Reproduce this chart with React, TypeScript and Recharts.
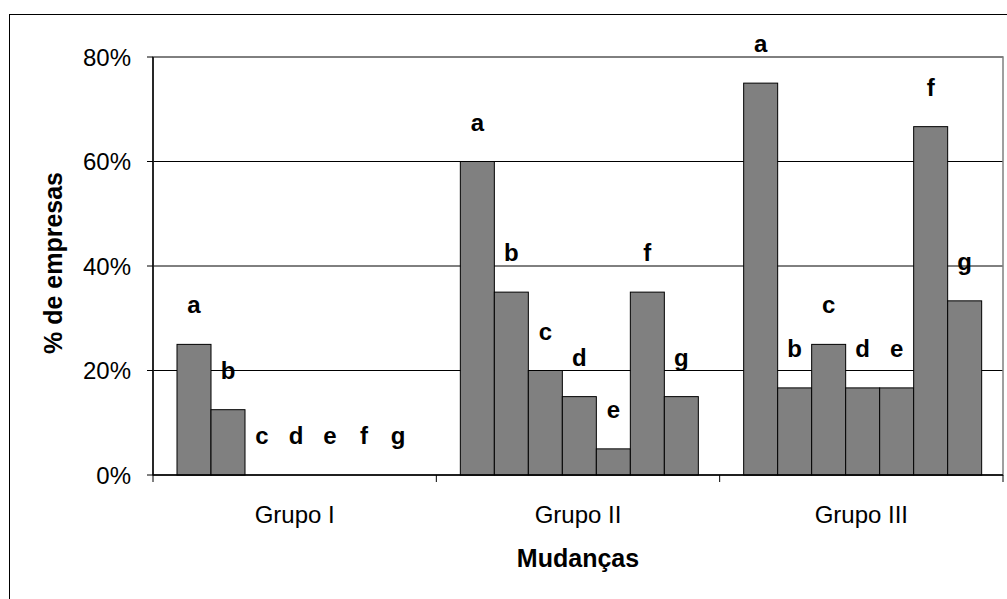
import React from 'react';
import { BarChart, Bar, XAxis, YAxis, CartesianGrid, ReferenceArea, Label } from 'recharts';

const groups = ['Grupo I', 'Grupo II', 'Grupo III'];
const seriesKeys = ['a', 'b', 'c', 'd', 'e', 'f', 'g'];
const aValues = [0.25, 0.6, 0.75];
const bValues = [0.125, 0.35, 0.1667];
const cValues = [0, 0.2, 0.25];
const dValues = [0, 0.15, 0.1667];
const eValues = [0, 0.05, 0.1667];
const fValues = [0, 0.35, 0.6667];
const gValues = [0, 0.15, 0.3333];
const yTicks = [0, 0.2, 0.4, 0.6, 0.8];
const yTitle = '% de empresas';
const xTitle = 'Mudanças';

const seriesValues: Record<string, number[]> = {
  a: aValues, b: bValues, c: cValues, d: dValues, e: eValues, f: fValues, g: gValues,
};

const data = groups.map((name, i) => {
  const row: Record<string, any> = { name };
  seriesKeys.forEach((k) => { row[k] = seriesValues[k][i]; });
  return row;
});

const FONT = '"Liberation Sans", Arial, sans-serif';

const XTick = (props: any) => {
  const { x, y, payload, index, visibleTicksCount } = props;
  const half = payload && payload.offset != null ? payload.offset : 0;
  const isLast = index === (visibleTicksCount ?? groups.length) - 1;
  return (
    <g>
      <line x1={x - half} y1={y} x2={x - half} y2={y + 7} stroke="#000" strokeWidth={1} />
      {isLast && <line x1={x + half} y1={y} x2={x + half} y2={y + 7} stroke="#000" strokeWidth={1} />}
      <text x={x} y={y + 48} textAnchor="middle" fontSize={24} fontFamily={FONT} fill="#000">
        {payload.value}
      </text>
    </g>
  );
};

const makeShape = (letter: string) => (p: any) => {
  const { x, y, width, height } = p;
  if (x == null || y == null || width == null) return <g />;
  const h = Math.max(0, height || 0);
  return (
    <g>
      {h > 0 && (
        <rect x={x} y={y} width={width} height={h} fill="#808080" stroke="#000" strokeWidth={1} />
      )}
      <text x={x + width / 2} y={y - 31} textAnchor="middle" fontSize={24} fontWeight="bold" fontFamily={FONT} fill="#000">
        {letter}
      </text>
    </g>
  );
};

export default function App() {
  return (
    <div style={{ position: 'fixed', left: 0, top: 0, width: 1007, height: 599, overflow: 'hidden', background: '#fff' }}>
      <div style={{ position: 'absolute', left: 9, top: 14, width: 1020, height: 620, border: '1px solid #000' }} />
      <div style={{ position: 'absolute', left: 0, top: 0 }}>
        <BarChart
          width={1007}
          height={599}
          data={data}
          margin={{ top: 57, right: 4, bottom: 0, left: 0 }}
          barCategoryGap={24}
          barGap={0}
        >
          <CartesianGrid vertical={false} stroke="#000" strokeWidth={1} />
          <ReferenceArea y1={0} y2={0.8} fill="none" stroke="#808080" strokeWidth={1.5} ifOverflow="visible" />
          <XAxis
            dataKey="name"
            height={124}
            tickLine={false}
            tickSize={0}
            tickMargin={0}
            axisLine={{ stroke: '#000', strokeWidth: 1.5 }}
            tick={<XTick />}
            interval={0}
          >
            <Label
              content={(p: any) => {
                const vb = p.viewBox || {};
                return (
                  <text x={vb.x + vb.width / 2} y={vb.y + 92} textAnchor="middle" fontSize={25} fontWeight="bold" fontFamily={FONT} fill="#000">
                    {xTitle}
                  </text>
                );
              }}
            />
          </XAxis>
          <YAxis
            width={153}
            domain={[0, 0.8]}
            ticks={yTicks}
            tickFormatter={(v: number) => `${Math.round(v * 100)}%`}
            tickSize={6}
            tickMargin={16}
            axisLine={{ stroke: '#000', strokeWidth: 1.5 }}
            tickLine={{ stroke: '#000', strokeWidth: 1 }}
            tick={{ fontSize: 24, fontFamily: FONT, fill: '#000' }}
          >
            <Label
              content={(p: any) => {
                const vb = p.viewBox || {};
                const cx = vb.x + 62;
                const cy = vb.y + vb.height / 2 - 3;
                return (
                  <text x={cx} y={cy} transform={`rotate(-90, ${cx}, ${cy})`} textAnchor="middle" fontSize={25} fontWeight="bold" fontFamily={FONT} fill="#000">
                    {yTitle}
                  </text>
                );
              }}
            />
          </YAxis>
          {seriesKeys.map((k) => (
            <Bar
              key={k}
              dataKey={k}
              fill="#808080"
              stroke="#000"
              strokeWidth={1}
              isAnimationActive={false}
              shape={makeShape(k)}
            />
          ))}
        </BarChart>
      </div>
    </div>
  );
}
